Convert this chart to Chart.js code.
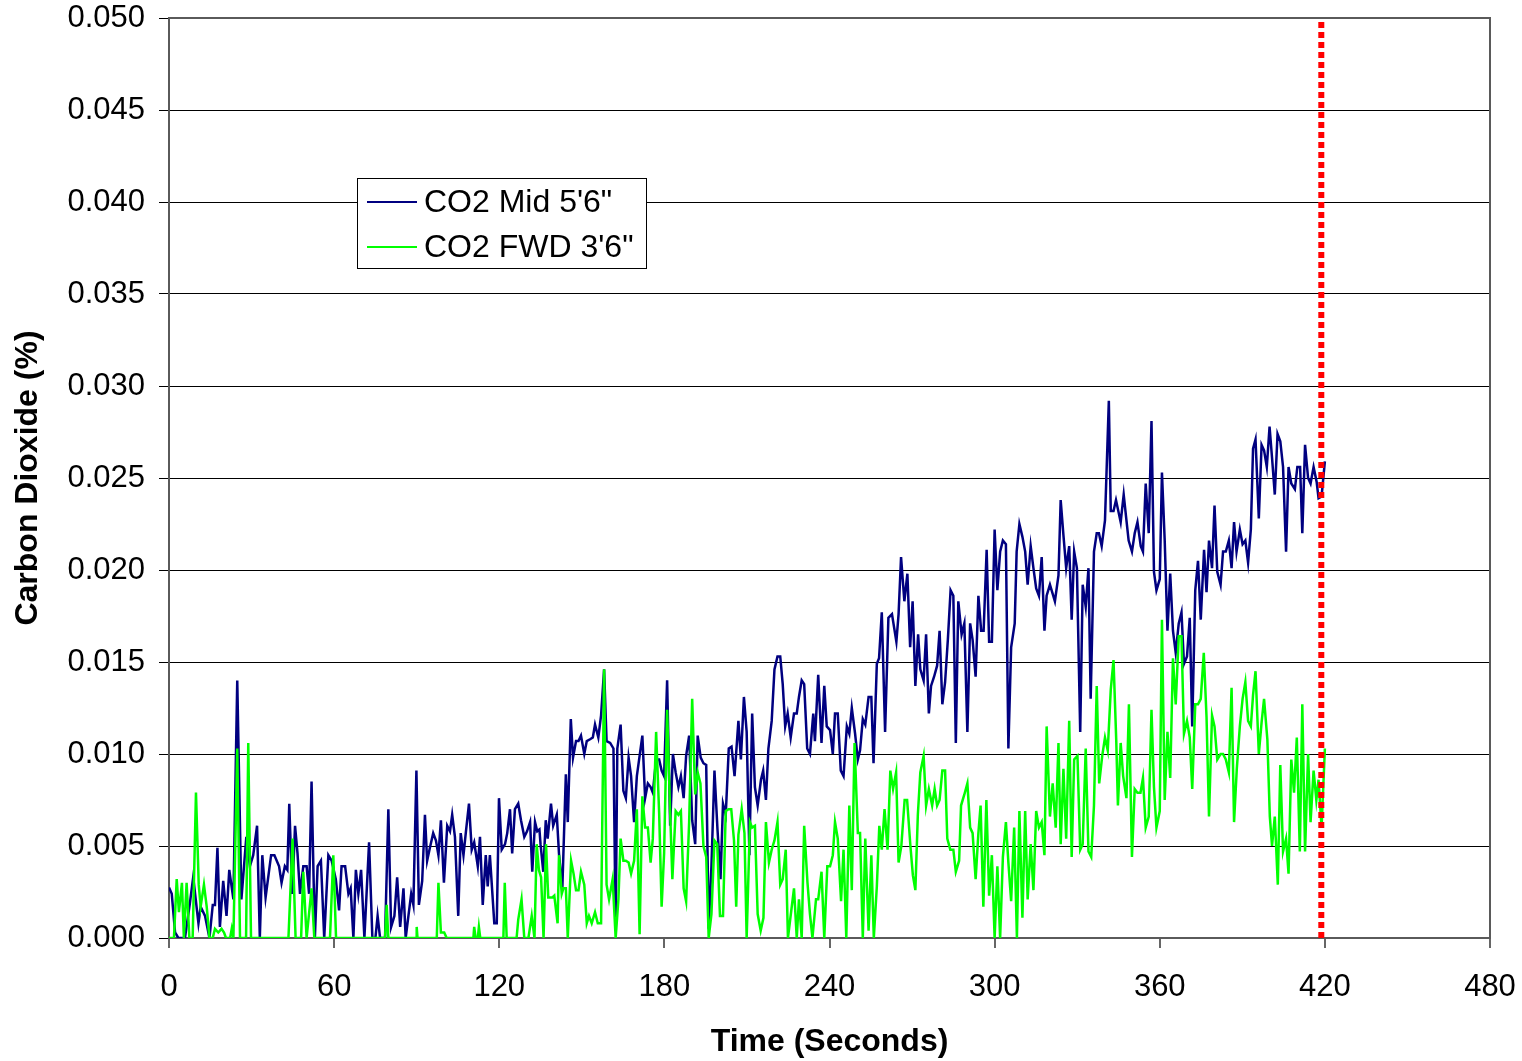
<!DOCTYPE html>
<html>
<head>
<meta charset="utf-8">
<script src="https://cdn.jsdelivr.net/npm/chart.js@4.4.1/dist/chart.umd.min.js"></script>
<style>
  body { margin: 0; background: #fff; }
  #wrap { width: 1522px; height: 1061px; }
</style>
</head>
<body>
<div id="wrap"><canvas id="co2" width="1522" height="1061"></canvas></div>
<script>
// CO2 Mid 5'6" (time in s, value in %)
const midTime = [0,1,2.2,3.4,5.8,7.6,8.8,10.7,11.5,13.1,14.7,15.9,16.7,17.6,18.5,19.7,20.9,21.9,23.4,24.8,
  26.3,28.1,29.4,30.6,32,33,33.9,35.1,37.1,38.3,40,40.9,42.1,43,43.7,44.8,45.8,46.7,47.6,48.8,
  50,50.9,51.8,53,54,55.2,56.4,57.9,59.1,60.6,61.8,62.7,64,65.2,66,67,67.9,68.8,69.8,71,
  72.7,73.9,75,75.8,76.7,78.5,79.7,80.7,81.9,82.9,84,85.2,86,87,88,88.8,89.9,90.8,92,93,
  93.8,94.8,96,97,97.9,98.8,99.9,101.1,102.1,102.9,103.9,105.1,106,107,107.9,109,110,110.9,112.2,113,
  114,115.1,115.8,116.6,118.2,119.1,119.9,120.9,122.1,122.9,123.9,124.7,125.7,126.9,127.9,129.1,130.1,131.2,132,133,
  133.8,134.6,135,136,136.9,137.6,138.8,139.6,140.9,141.7,142.9,144.2,144.9,146,146.8,147.9,148.8,149.7,150.9,151.8,
  153,154,154.8,156,157,158.1,159,160.3,161.5,162.3,162.9,164.1,165.1,166,167,167.9,169,170,171,172,
  173,174,175,175.8,177,178.1,179,179.9,181,182.1,183.1,184.1,185.1,186,187,187.9,189,190.1,191.2,192.1,
  193.2,194.2,195.2,196.1,197.1,198.2,199.3,200.4,201.3,202.3,203.4,204.4,205.5,206.9,207.8,208.9,209.9,210.9,211.9,212.9,
  213.9,215.1,215.9,216.9,217.8,219,220,221.1,222.1,223,223.9,224.8,225.9,227.1,228.1,228.9,229.9,230.8,231.9,232.9,
  234.1,234.7,235.9,237.1,238.1,239,240.2,241.2,242,243,244.1,245.1,246.3,247.2,248.1,249.3,250.3,251.1,252.1,253,
  254.2,255.2,256,257.2,258,259,260.2,261.4,262.7,264.3,265.1,266,267.2,268.3,269.3,270.2,271.2,272.2,273,274.2,
  275.1,276.1,276.9,278,279.1,280,281,282,283,284,285,285.9,286.8,288,289,290.1,291.1,292,293.1,294.1,
  295.1,296,297.1,298,299,300,301,302,303,304.1,305,306,307.3,308,309,310.1,311.1,312,313.1,314.1,
  315.1,316.1,317.1,318.1,318.9,320.1,321.1,321.9,323.2,324,325,326,327.1,328,328.9,329.9,331.1,332,333.1,334.1,
  334.9,336.1,337.1,337.9,338.9,340.1,341.5,342.2,343.2,344.1,345.8,346.9,347.9,348.7,349.9,350.9,351.9,353.1,353.9,354.9,
  356,357,357.9,358.8,360,360.8,361.8,362.8,363.8,364.8,365.8,366.9,367.9,368.8,369.9,370.9,371.8,372.9,373.9,374.9,
  376.1,377,377.9,379,379.9,380.9,382.1,383,384,385.1,386.1,387,387.9,389.1,390.1,391.1,392.1,393.1,393.9,394.8,
  396,397,397.9,398.9,399.9,400.8,401.8,402.8,403.8,404.8,405.9,406.8,407.8,409.1,410,411,411.8,412.8,413.9,414.8,
  415.9,417,417.7,418.8,420];
const midCO2 = [.00275,.0024,.0003,0,0,.0019,.0033,.0008,.0017,.0012,0,.0018,.0018,.0049,.0006,.0031,.0012,.0037,.0021,.0140,
  .0021,.0055,.0039,.0045,.0061,0,.0045,.0022,.0045,.0045,.0039,.0030,.0039,.0037,.0073,.0024,.0061,.0046,.0024,.0039,
  .0039,.0024,.0085,0,.0039,.0042,0,.0045,.0042,.0032,.0015,.0039,.0039,.0024,.0027,0,.0037,.0024,.0037,0,
  .0052,0,0,.0012,0,0,.0070,.0006,.0012,.0033,.0006,.0027,0,.0012,.0024,.0018,.0091,.0018,.0031,.0067,
  .0042,.0049,.0057,.0053,.0045,.0064,.0030,.0061,.0058,.0067,.0055,.0012,.0057,.0045,.0058,.0073,.0048,.0052,.0039,.0055,
  .0018,.0045,.0028,.0045,.0008,.0008,.0076,.0048,.0051,.0057,.0070,.0046,.0070,.0073,.0064,.0055,.0058,.0063,.0036,.0063,
  .0058,.0059,.0051,.0036,.0064,.0054,.0073,.0061,.0067,.0046,.0026,.0089,.0063,.0119,.0098,.0107,.0107,.0110,.0100,.0107,
  .0108,.0109,.0116,.0109,.0121,.0146,.0107,.0106,.0103,.0005,.0103,.0116,.0080,.0076,.0098,.0088,.0063,.0088,.0099,.0110,
  .0076,.0084,.0082,.0079,.0097,.0097,.0091,.0088,.0140,.0061,.0100,.0090,.0082,.0088,.0076,.0099,.0110,.0064,.0051,.0110,
  .0098,.0095,.0094,.0005,.0039,.0091,.0059,.0032,.0073,.0067,.0103,.0104,.0088,.0118,.0097,.0131,.0112,.0045,.0122,.0082,
  .0072,.0086,.0091,.0075,.0103,.0118,.0146,.0153,.0153,.0138,.0115,.0122,.0109,.0122,.0122,.0131,.0140,.0138,.0103,.0100,
  .0122,.0107,.0143,.0106,.0137,.0115,.0113,.0100,.0122,.0122,.0091,.0088,.0115,.0111,.0125,.0111,.0097,.0102,.0119,.0116,
  .0131,.0131,.0095,.0149,.0152,.0177,.0112,.0174,.0176,.0161,.0176,.0207,.0183,.0198,.0158,.0183,.0137,.0165,.0146,.0140,
  .0165,.0122,.0137,.0142,.0148,.0167,.0127,.0139,.0162,.0189,.0186,.0106,.0183,.0165,.0171,.0112,.0171,.0162,.0142,.0186,
  .0167,.0167,.0211,.0161,.0161,.0222,.0189,.0210,.0216,.0214,.0103,.0158,.0171,.0210,.0225,.0218,.0210,.0192,.0213,.0201,
  .0190,.0186,.0207,.0167,.0186,.0192,.0187,.0183,.0197,.0238,.0219,.0201,.0213,.0173,.0210,.0201,.0112,.0192,.0180,.0201,
  .0130,.0210,.0220,.0220,.0213,.0227,.0292,.0232,.0232,.0238,.0226,.0241,.0227,.0216,.0210,.0220,.0226,.0213,.0210,.0247,
  .0220,.0281,.0199,.0189,.0195,.0253,.0216,.0167,.0198,.0167,.0155,.0171,.0177,.0149,.0153,.0174,.0115,.0189,.0205,.0173,
  .0211,.0188,.0216,.0201,.0235,.0199,.0192,.0210,.0210,.0216,.0201,.0226,.0210,.0222,.0214,.0216,.0204,.0222,.0266,.0271,
  .0228,.0268,.0265,.0256,.0278,.0261,.0241,.0274,.0270,.0256,.0210,.0256,.0247,.0244,.0256,.0256,.0220,.0268,.0250,.0247,
  .0256,.0248,.0239,.0240,.0259];

// CO2 FWD 3'6"
const fwdTime = [0,1.8,2.8,3.6,4.7,5.4,6.4,7.4,8.6,9.8,10.8,11.5,12.7,13.7,14.7,15.9,16.7,17.9,19.1,20,
  20.7,22.2,22.8,23.4,24.8,25.8,28,28.8,29.8,43.4,44.9,46,48,48.8,50,51.8,52.8,58.5,59.7,60.7,
  78.5,79.1,79.7,89.8,90,90.3,97.3,97.9,98.8,100,100.9,110.6,110.9,111.4,112.2,112.6,113.1,121.5,122,122.7,
  126.3,126.9,128.1,129.1,130.6,131.8,132.8,133.6,134.4,135.2,136.1,137,137.8,139.3,140,141.2,141.7,142.7,143.3,144.2,
  144.9,146.1,147,147.9,148.8,149.7,150.9,151.8,152.6,153.6,154.8,155.8,157,158.1,159,159.9,161.2,162.3,163.3,164.1,
  165.1,166,167,167.9,169,170,171,172,173,174,175,175.8,177,178.1,179,179.9,181,182.1,182.9,184.1,
  185.1,186,187,187.9,189,190.1,191.2,192.1,193.1,194.2,195.2,196.1,197.1,198.2,199.2,200.2,201.3,202.3,203.3,204.3,
  205.3,206.1,206.9,208.1,209.1,209.9,211.1,211.9,212.9,213.9,215,216,216.9,218,219,220,221.1,222.1,223,224.1,
  224.9,227.1,228.1,228.9,229.9,230.8,232,232.9,233.8,235.1,235.9,237.1,238.1,239.2,240.2,241.2,242,243,244.2,245.1,
  246.1,247.2,248.1,249.1,250.3,251.1,252.1,253,254.2,255.2,256.1,257.2,258.1,259,260,261.1,262.1,263.1,264.2,265.1,
  266.1,267.3,268.2,269.4,270.3,271.2,272.1,273,274.2,275.1,276.1,277.3,278.2,279.1,280,281,282,282.8,283.9,285,
  285.9,287.1,287.8,289,290.1,291.1,292,293.1,294.1,294.9,295.9,297,298,299,300,301,302,303,304.1,305,
  306,307.1,308.1,309,310.1,311.1,312,313.1,314.1,315.1,316.1,317.1,318.1,318.9,320.1,321.1,322.2,323.2,324,325,
  326,327.1,328,328.9,330.1,331.1,332,333.1,334.1,335.1,336.1,337.1,338,339.1,340.1,341.1,342.2,343.2,344.2,344.8,
  345.8,346.7,347.9,348.8,349.9,350.9,351.9,353,353.9,354.9,356,357,357.9,358.8,360,360.8,361.8,362.8,363.8,364.8,
  365.8,366.9,367.9,368.8,369.9,370.9,371.8,372.9,373.9,374.9,376,377,377.9,379,379.9,380.9,382.1,383,384,385.1,
  386.1,387,388,389.1,390.1,391.1,392.1,393.1,393.9,394.8,396,397,397.9,399.1,400,400.8,401.8,402.9,403.8,404.8,
  405.9,406.8,407.8,408.8,409.8,410.9,411.8,412.8,413.9,414.8,415.9,416.9,417.7,418.8,420];
const fwdCO2 = [0,0,.0032,.0014,.0030,0,.0030,0,0,.0079,.0029,.0017,.0029,.0017,0,0,.0005,.0003,.0005,.0003,
  0,0,.0005,0,.0103,0,0,.0106,0,0,.0054,0,0,.0036,0,.0027,0,0,.0045,0,
  0,.0018,0,0,.0006,0,0,.0030,.0003,.0003,0,0,.0006,0,0,.0006,0,0,.0030,0,
  0,.0010,.0021,0,0,.0012,0,.0051,.0037,.0033,0,.0051,.0022,.0022,.0023,.0008,.0045,.0024,.0027,.0027,
  0,.0042,.0035,.0026,.0026,.0036,.0029,.0008,.0012,.0008,.0014,.0008,.0008,.0146,.0029,.0021,.0032,0,.0021,.0054,
  .0042,.0042,.0041,.0035,.0042,.0070,.0002,.0077,.0060,.0060,.0041,.0054,.0112,.0068,.0017,.0046,.0124,.0068,.0032,.0069,
  .0067,.0069,.0027,.0020,.0063,.0130,.0078,.0090,.0084,.0050,.0044,0,.0013,.0053,.0051,.0012,.0012,.0069,.0070,.0070,
  .0053,.0017,.0056,.0070,.0057,0,.0063,.0060,.0061,.0013,.0004,.0011,.0063,.0041,.0048,.0053,.0063,.0029,.0032,.0048,
  0,.0027,0,.0021,0,.0061,.0030,.0013,0,.0021,.0021,.0036,0,.0039,.0039,.0045,.0063,.0054,.0020,.0048,
  0,.0072,.0026,.0106,.0057,.0057,0,.0054,.0004,.0045,0,.0028,.0061,.0048,.0070,.0048,.0091,.0081,.0090,.0041,
  .0050,.0075,.0075,.0050,.0034,.0026,.0067,.0090,.0099,.0072,.0081,.0072,.0081,.0072,.0075,.0091,.0091,.0054,.0048,.0048,
  .0036,.0042,.0072,.0078,.0084,.0060,.0057,.0032,.0057,.0072,.0017,.0075,.0023,.0045,0,.0039,0,.0044,.0063,.0041,
  .0020,.0060,0,.0069,.0011,.0069,.0021,.0051,.0026,.0069,.0060,.0063,.0045,.0115,.0066,.0084,.0060,.0106,.0051,.0092,
  .0054,.0118,.0044,.0097,.0099,.0048,.0051,.0103,.0047,.0044,.0072,.0137,.0084,.0099,.0109,.0102,.0135,.0151,.0107,.0072,
  .0106,.0088,.0076,.0127,.0044,.0081,.0079,.0079,.0087,.0060,.0066,.0124,.0082,.0060,.0069,.0173,.0075,.0112,.0087,.0152,
  .0127,.0164,.0164,.0111,.0118,.0109,.0081,.0127,.0127,.0130,.0155,.0120,.0066,.0121,.0115,.0097,.0100,.0100,.0097,.0090,
  .0136,.0063,.0092,.0115,.0130,.0139,.0118,.0115,.0132,.0145,.0100,.0117,.0130,.0108,.0066,.0050,.0066,.0029,.0094,.0047,
  .0054,.0035,.0097,.0079,.0109,.0047,.0127,.0047,.0100,.0063,.0091,.0075,.0086,.0060,.0103];

// end-of-test marker
const markerTime = 418.7;
const markerRange = [0, 0.05];

const xTicks = [0, 60, 120, 180, 240, 300, 360, 420, 480];
const yTicks = [0, 0.005, 0.010, 0.015, 0.020, 0.025, 0.030, 0.035, 0.040, 0.045, 0.050];

const FONT = '"Liberation Sans", Arial, sans-serif';

function pairs(xs, ys) {
  return xs.map(function (t, i) { return { x: t, y: ys[i] }; });
}

// outer frame of the plot area (right + top edges)
const framePlugin = {
  id: 'frame',
  afterDatasetsDraw: function (chart) {
    const a = chart.chartArea;
    const ctx = chart.ctx;
    ctx.save();
    ctx.strokeStyle = '#5a5a5a';
    ctx.lineWidth = 2;
    ctx.beginPath();
    ctx.moveTo(a.left, a.top);
    ctx.lineTo(a.right, a.top);
    ctx.lineTo(a.right, a.bottom);
    ctx.stroke();
    ctx.restore();
  }
};

// boxed legend sitting inside the plot
const boxLegend = {
  id: 'boxLegend',
  afterDraw: function (chart) {
    const ctx = chart.ctx;
    const items = chart.data.datasets.filter(function (d) { return d.label; });
    const bx = 357, by = 178, bw = 290, bh = 91;
    ctx.save();
    ctx.fillStyle = '#ffffff';
    ctx.fillRect(bx, by, bw, bh);
    ctx.strokeStyle = '#000000';
    ctx.lineWidth = 1;
    ctx.strokeRect(bx + 0.5, by + 0.5, bw - 1, bh - 1);
    ctx.font = '32px ' + FONT;
    ctx.textBaseline = 'middle';
    ctx.fillStyle = '#000000';
    items.forEach(function (d, i) {
      const y = 202 + i * 45;
      ctx.strokeStyle = d.borderColor;
      ctx.lineWidth = 2;
      ctx.beginPath();
      ctx.moveTo(367, y);
      ctx.lineTo(417, y);
      ctx.stroke();
      ctx.fillText(d.label, 424, y + 1);
    });
    ctx.restore();
  }
};

new Chart(document.getElementById('co2'), {
  type: 'line',
  data: {
    datasets: [
      {
        label: "CO2 Mid 5'6\"",
        data: pairs(midTime, midCO2),
        borderColor: '#000080',
        borderWidth: 2.5,
        pointRadius: 0,
        tension: 0,
        order: 3
      },
      {
        label: "CO2 FWD 3'6\"",
        data: pairs(fwdTime, fwdCO2),
        borderColor: '#00ff00',
        borderWidth: 2.5,
        pointRadius: 0,
        tension: 0,
        order: 2
      },
      {
        data: markerRange.map(function (v) { return { x: markerTime, y: v }; }),
        borderColor: '#ff0000',
        borderWidth: 6,
        borderDash: [6, 4],
        borderCapStyle: 'butt',
        pointRadius: 0,
        order: 1
      }
    ]
  },
  options: {
    responsive: false,
    devicePixelRatio: 1,
    animation: false,
    layout: { padding: { top: 18, right: 32, left: 0, bottom: 0 } },
    plugins: {
      legend: { display: false },
      tooltip: { enabled: false }
    },
    scales: {
      x: {
        type: 'linear',
        min: 0,
        max: 480,
        afterBuildTicks: function (scale) {
          scale.ticks = xTicks.map(function (v) { return { value: v }; });
        },
        afterFit: function (scale) {
          scale.height = 123;
          scale.paddingLeft = 0;
          scale.paddingRight = 0;
        },
        grid: { drawOnChartArea: false, drawTicks: true, tickLength: 10, tickColor: '#666666', lineWidth: 2 },
        border: { display: true, color: '#5a5a5a', width: 2 },
        ticks: { font: { family: FONT, size: 31 }, color: '#000', padding: 21, maxRotation: 0 },
        title: {
          display: true,
          text: 'Time (Seconds)',
          color: '#000',
          font: { family: FONT, size: 32, weight: 'bold' },
          padding: { top: 0, bottom: 0 }
        }
      },
      y: {
        min: 0,
        max: 0.05,
        afterBuildTicks: function (scale) {
          scale.ticks = yTicks.map(function (v) { return { value: v }; });
        },
        afterFit: function (scale) {
          scale.width = 169;
          scale.paddingTop = 0;
          scale.paddingBottom = 0;
        },
        grid: { color: '#000000', lineWidth: 1, drawTicks: true, tickLength: 10, tickColor: '#000000' },
        border: { display: true, color: '#5a5a5a', width: 2 },
        ticks: {
          font: { family: FONT, size: 31 },
          color: '#000',
          padding: 14,
          callback: function (v) { return v.toFixed(3); }
        },
        title: {
          display: true,
          text: 'Carbon Dioxide (%)',
          color: '#000',
          font: { family: FONT, size: 32, weight: 'bold' },
          padding: { top: 9, bottom: 8 }
        }
      }
    }
  },
  plugins: [framePlugin, boxLegend]
});
</script>
</body>
</html>
